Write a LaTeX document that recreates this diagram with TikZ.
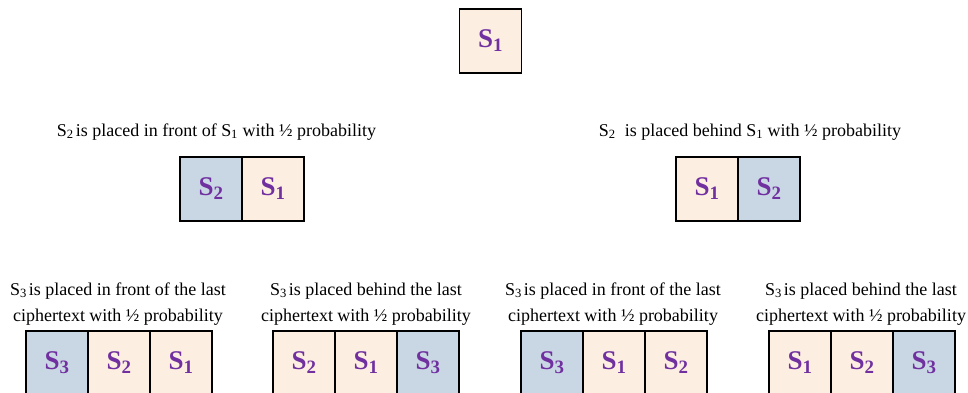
\documentclass[tikz,border=0pt]{standalone}
\usepackage{fontspec}
\setmainfont{Liberation Serif}
\definecolor{peach}{HTML}{FDEEE2}
\definecolor{bluegrey}{HTML}{C9D6E4}
\definecolor{lblpurple}{HTML}{7030A0}
\newcommand{\sub}[1]{\textsubscript{#1}}
\begin{document}
\begin{tikzpicture}[x=1pt,y=-1pt,
  cell/.style={draw=black,line width=1.3pt,minimum width=62pt,minimum height=64pt,inner sep=0pt,
    font=\fontsize{27}{30}\selectfont\bfseries,text=lblpurple},
  pcell/.style={cell,fill=peach},
  bcell/.style={cell,fill=bluegrey},
  caption/.style={font=\fontsize{18}{26}\selectfont,align=center,inner sep=0pt}]
\useasboundingbox (0,0) rectangle (968,393);
% top
\node[pcell] (t1) at (490.5,41) {S\sub{1}};
% middle
\node[caption] (capL) at (216.5,132) {S\sub{2}\kern2pt is placed in front of S\sub{1} with ½ probability};
\node[bcell] (mL2) at (211,189) {S\sub{2}};
\node[pcell] (mL1) at (273,189) {S\sub{1}};
\node[caption] (capR) at (750,132) {S\sub{2}\ \ is placed behind S\sub{1} with ½ probability};
\node[pcell] (mR1) at (707,189) {S\sub{1}};
\node[bcell] (mR2) at (769,189) {S\sub{2}};
% bottom
\node[caption] (c1) at (118,304) {S\sub{3}\kern2pt is placed in front of the last\\ciphertext with ½ probability};
\node[caption] (c2) at (366,304) {S\sub{3}\kern2pt is placed behind the last\\ciphertext with ½ probability};
\node[caption] (c3) at (613,304) {S\sub{3}\kern2pt is placed in front of the last\\ciphertext with ½ probability};
\node[caption] (c4) at (861,304) {S\sub{3}\kern2pt is placed behind the last\\ciphertext with ½ probability};
\node[bcell] (a3) at (57,363) {S\sub{3}};
\node[pcell] (a2) at (119,363) {S\sub{2}};
\node[pcell] (a1) at (181,363) {S\sub{1}};
\node[pcell] (b2) at (304,363) {S\sub{2}};
\node[pcell] (b1) at (366,363) {S\sub{1}};
\node[bcell] (b3) at (428,363) {S\sub{3}};
\node[bcell] (d3) at (552,363) {S\sub{3}};
\node[pcell] (d1) at (614,363) {S\sub{1}};
\node[pcell] (d2) at (676,363) {S\sub{2}};
\node[pcell] (e1) at (800,363) {S\sub{1}};
\node[pcell] (e2) at (862,363) {S\sub{2}};
\node[bcell] (e3) at (924,363) {S\sub{3}};
\end{tikzpicture}
\end{document}
